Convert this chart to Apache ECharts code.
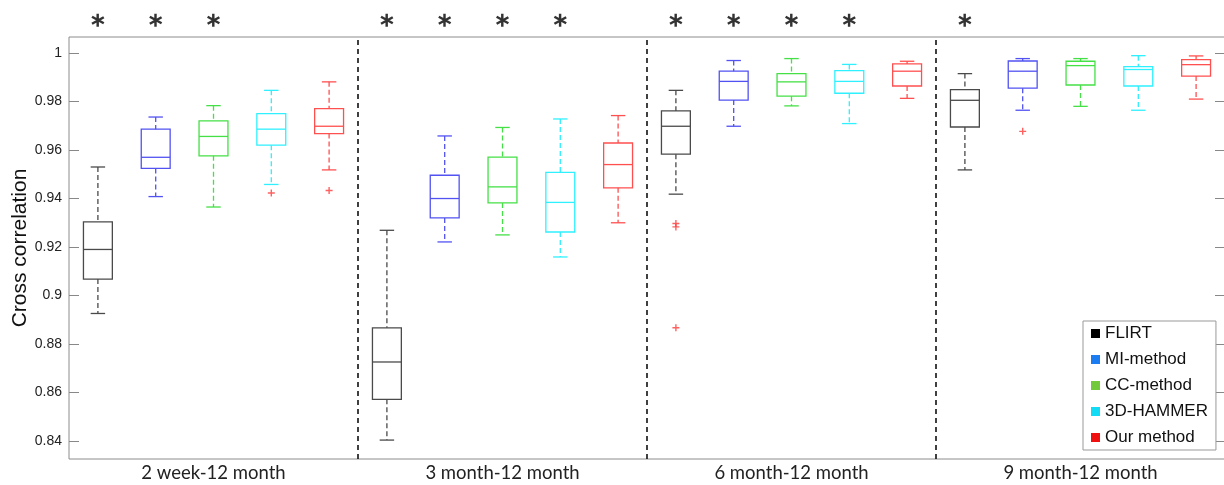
<!DOCTYPE html>
<html>
<head>
<meta charset="utf-8">
<script src="https://cdn.jsdelivr.net/npm/echarts@6/dist/echarts.min.js"></script>
<style>
  html, body { margin: 0; padding: 0; background: #fff; }
  #chart { width: 1224px; height: 485px; }
</style>
</head>
<body>
<div id="chart"></div>
<script>
// groups on the x axis
const groups  = ['2 week-12 month', '3 month-12 month', '6 month-12 month', '9 month-12 month'];
const methods = ['FLIRT', 'MI-method', 'CC-method', '3D-HAMMER', 'Our method'];

// box stats per group: [lower whisker, Q1, median, Q3, upper whisker]
const flirtBoxes  = [[0.8926, 0.9068, 0.9190, 0.9304, 0.9530], [0.8404, 0.8572, 0.8726, 0.8867, 0.9269],
                     [0.9418, 0.9583, 0.9698, 0.9761, 0.9846], [0.9518, 0.9695, 0.9805, 0.9849, 0.9915]];
const miBoxes     = [[0.9408, 0.9524, 0.9570, 0.9686, 0.9736], [0.9221, 0.9320, 0.9400, 0.9496, 0.9658],
                     [0.9698, 0.9806, 0.9883, 0.9925, 0.9969], [0.9764, 0.9855, 0.9925, 0.9967, 0.9977]];
const ccBoxes     = [[0.9365, 0.9576, 0.9656, 0.9720, 0.9783], [0.9250, 0.9382, 0.9448, 0.9571, 0.9693],
                     [0.9782, 0.9822, 0.9881, 0.9915, 0.9977], [0.9780, 0.9868, 0.9948, 0.9966, 0.9977]];
const hammerBoxes = [[0.9458, 0.9620, 0.9686, 0.9750, 0.9846], [0.9159, 0.9262, 0.9384, 0.9508, 0.9728],
                     [0.9709, 0.9834, 0.9883, 0.9927, 0.9953], [0.9764, 0.9864, 0.9932, 0.9944, 0.9989]];
const ourBoxes    = [[0.9518, 0.9668, 0.9698, 0.9771, 0.9881], [0.9300, 0.9444, 0.9540, 0.9629, 0.9742],
                     [0.9813, 0.9864, 0.9925, 0.9955, 0.9966], [0.9810, 0.9905, 0.9952, 0.9973, 0.9988]];

// outliers per group
const flirtOut  = [[], [], [0.9297, 0.9283, 0.8867], []];
const miOut     = [[], [], [], [0.9677]];
const ccOut     = [[], [], [], []];
const hammerOut = [[0.9423], [], [], []];
const ourOut    = [[0.9433], [], [], []];

// significance stars (1 = starred) per group, one flag per method
const sigFlags = [[1, 1, 1, 0, 0], [1, 1, 1, 1, 0], [1, 1, 1, 1, 0], [1, 0, 0, 0, 0]];

const yTicks = [0.84, 0.86, 0.88, 0.9, 0.92, 0.94, 0.96, 0.98, 1];

const allBoxes = [flirtBoxes, miBoxes, ccBoxes, hammerBoxes, ourBoxes];
const allOut   = [flirtOut, miOut, ccOut, hammerOut, ourOut];
const lineColors   = ['#4a4a4a', '#5252f2', '#45e045', '#2ef0ff', '#ff5050'];
const legendColors = ['#000000', '#1a7cf0', '#72c93c', '#12dcf5', '#f01010'];

const Y_MIN = 0.8326, Y_MAX = 1.0066, STAR_Y = 1.0135;
const nMethods = methods.length;
const xPos = (g, m) => g * nMethods + m + 1;

function renderBox(params, api) {
  const x   = api.value(0);
  const lo  = api.coord([x, api.value(1)]);
  const q1  = api.coord([x, api.value(2)]);
  const md  = api.coord([x, api.value(3)]);
  const q3  = api.coord([x, api.value(4)]);
  const hi  = api.coord([x, api.value(5)]);
  const w   = api.size([1, 0])[0] * 0.5;
  const cx  = lo[0];
  const col = lineColors[params.seriesIndex];
  const solid  = { stroke: col, lineWidth: 1.3, fill: null };
  const dashed = { stroke: col, lineWidth: 1.3, lineDash: [5, 3] };
  return {
    type: 'group',
    children: [
      { type: 'line', shape: { x1: cx, y1: hi[1], x2: cx, y2: q3[1] }, style: dashed },
      { type: 'line', shape: { x1: cx, y1: q1[1], x2: cx, y2: lo[1] }, style: dashed },
      { type: 'line', shape: { x1: cx - w / 4, y1: hi[1], x2: cx + w / 4, y2: hi[1] }, style: solid },
      { type: 'line', shape: { x1: cx - w / 4, y1: lo[1], x2: cx + w / 4, y2: lo[1] }, style: solid },
      { type: 'rect', shape: { x: cx - w / 2, y: q3[1], width: w, height: q1[1] - q3[1] }, style: solid },
      { type: 'line', shape: { x1: cx - w / 2, y1: md[1], x2: cx + w / 2, y2: md[1] }, style: solid }
    ]
  };
}

const series = methods.map((name, m) => ({
  name: name,
  type: 'custom',
  xAxisIndex: 0,
  itemStyle: { color: legendColors[m] },
  renderItem: renderBox,
  encode: { x: 0, y: [1, 2, 3, 4, 5] },
  data: allBoxes[m].map((b, g) => [xPos(g, m)].concat(b))
}));

// outliers
const outData = [];
allOut.forEach((perGroup, m) => perGroup.forEach((vals, g) => vals.forEach(v => outData.push([xPos(g, m), v]))));
series.push({
  name: 'outliers',
  type: 'scatter',
  xAxisIndex: 0,
  symbol: 'path://M4,0H6V4H10V6H6V10H4V6H0V4H4Z',
  symbolSize: 7,
  itemStyle: { color: '#ff3a3a' },
  data: outData,
  markLine: {
    silent: true,
    symbol: ['none', 'none'],
    label: { show: false },
    lineStyle: { color: '#111', type: [5, 4], width: 1.6 },
    data: [1, 2, 3].map(k => ({ xAxis: k * nMethods + 0.5 }))
  }
});

// significance stars
const starData = [];
sigFlags.forEach((flags, g) => flags.forEach((f, m) => { if (f) starData.push([xPos(g, m), STAR_Y]); }));
series.push({
  name: 'stars',
  type: 'scatter',
  xAxisIndex: 0,
  clip: false,
  symbol: 'path://M41,0L59,0L59,100L41,100Z M12.7,14.6L99.3,64.6L90.3,80.2L3.7,30.2Z M99.3,35.4L12.7,85.4L3.7,69.8L90.3,19.8Z',
  symbolSize: [13, 13],
  itemStyle: { color: '#000' },
  data: starData
});

const chart = echarts.init(document.getElementById('chart'));
chart.setOption({
  animation: false,
  backgroundColor: '#fff',
  grid: {
    left: 69, top: 37, bottom: 26, right: -1,
    outerBoundsMode: 'none', containLabel: false,
    show: true, borderColor: '#8c8c8c', borderWidth: 1
  },
  legend: {
    orient: 'vertical',
    left: 1083,
    top: 321,
    padding: [4, 8, 4, 8],
    itemGap: 9,
    itemWidth: 9,
    itemHeight: 9,
    itemTextGap: 6,
    icon: 'rect',
    borderColor: '#999',
    borderWidth: 1,
    backgroundColor: '#fff',
    textStyle: { fontFamily: 'Liberation Sans, Arial', fontSize: 17, lineHeight: 17, color: '#111' },
    data: methods.map((n, m) => ({ name: n, itemStyle: { color: legendColors[m], borderWidth: 0 } }))
  },
  xAxis: [
    {
      type: 'value', min: 0.5, max: 20.5,
      axisLine: { show: false }, axisTick: { show: false }, axisLabel: { show: false }, splitLine: { show: false }
    },
    {
      type: 'category', data: groups, position: 'bottom',
      axisLine: { show: false }, axisTick: { show: false }, splitLine: { show: false },
      axisLabel: { fontFamily: 'Lato', fontSize: 18.5, color: '#222', margin: 5 }
    }
  ],
  yAxis: [
    {
      type: 'value', min: Y_MIN, max: Y_MAX,
      name: 'Cross correlation', nameLocation: 'middle', nameGap: 38, nameMoveOverlap: false,
      nameTextStyle: { fontFamily: 'Liberation Sans, Arial', fontSize: 21, color: '#111' },
      axisLine: { show: false }, splitLine: { show: false },
      axisTick: { inside: true, length: 10, lineStyle: { color: '#888' }, customValues: yTicks },
      axisLabel: { fontFamily: 'Liberation Sans, Arial', fontSize: 14, color: '#222', margin: 7, customValues: yTicks }
    },
    {
      type: 'value', min: Y_MIN, max: Y_MAX, position: 'right',
      axisLine: { show: false }, splitLine: { show: false }, axisLabel: { show: false },
      axisTick: { inside: true, length: 10, lineStyle: { color: '#888' }, customValues: yTicks }
    }
  ],
  series: series
});
</script>
</body>
</html>
